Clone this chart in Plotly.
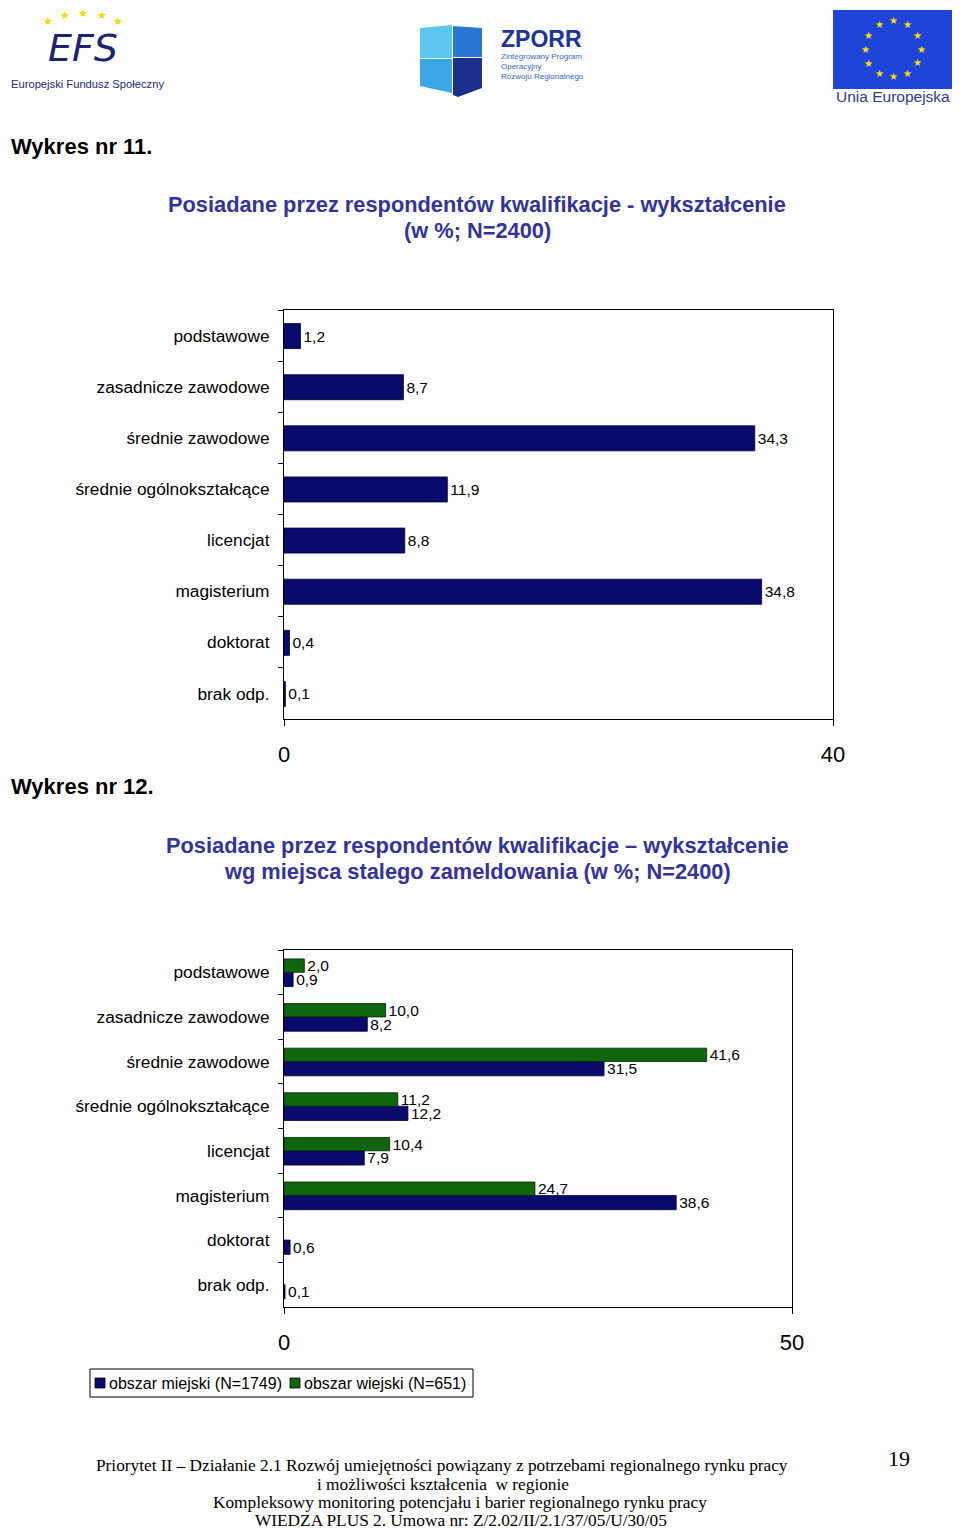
import math
import plotly.graph_objects as go

# ---------------- data ----------------
categories = ["podstawowe", "zasadnicze zawodowe", "średnie zawodowe",
              "średnie ogólnokształcące", "licencjat", "magisterium",
              "doktorat", "brak odp."]
total_pct = [1.2, 8.7, 34.3, 11.9, 8.8, 34.8, 0.4, 0.1]
urban_pct = [0.9, 8.2, 31.5, 12.2, 7.9, 38.6, 0.6, 0.1]
rural_pct = [2.0, 10.0, 41.6, 11.2, 10.4, 24.7, None, None]
series_names = ["obszar miejski (N=1749)", "obszar wiejski (N=651)"]
x1_ticks = [0, 40]
x2_ticks = [0, 50]

# page is 960x1534; browser body has an 8px margin, so the figure is 944x1518
OFF = 8
W, H = 960 - 2 * OFF, 1534 - 2 * OFF
def px(x): return (x - OFF) / W
def py(y): return 1 - (y - OFF) / H

def fmt(v):
    return "" if v is None else f"{v:.1f}".replace(".", ",")

BLUE = "#0a0a6c"
GREEN = "#0f660f"
TITLE = "#333399"
SANS = "Liberation Sans, Arial, sans-serif"
SERIF = "Liberation Serif, Times New Roman, serif"

cat_order = categories[::-1]  # podstawowe at top

fig = go.Figure()

fig.add_trace(go.Bar(
    x=total_pct, y=categories, orientation="h", xaxis="x", yaxis="y",
    marker=dict(color=BLUE, line=dict(color="#000030", width=0.8)),
    width=0.49, offset=-0.255,
    text=[fmt(v) for v in total_pct], textposition="outside",
    constraintext="none", cliponaxis=False,
    textfont=dict(family=SANS, size=15.5, color="black"),
    showlegend=False))

fig.add_trace(go.Bar(
    x=urban_pct, y=categories, orientation="h", xaxis="x2", yaxis="y2",
    name=series_names[0],
    marker=dict(color=BLUE, line=dict(color="#000030", width=0.8)),
    width=0.32, offset=-0.32,
    text=[fmt(v) for v in urban_pct], textposition="outside",
    constraintext="none", cliponaxis=False,
    textfont=dict(family=SANS, size=15.5, color="black"),
    showlegend=False))

fig.add_trace(go.Bar(
    x=rural_pct, y=categories, orientation="h", xaxis="x2", yaxis="y2",
    name=series_names[1],
    marker=dict(color=GREEN, line=dict(color="#002000", width=0.8)),
    width=0.30, offset=0.0,
    text=[fmt(v) for v in rural_pct], textposition="outside",
    constraintext="none", cliponaxis=False,
    textfont=dict(family=SANS, size=15.5, color="black"),
    showlegend=False))

axis_common = dict(showline=True, linecolor="black", linewidth=1, mirror=True,
                   showgrid=False, zeroline=False, ticks="outside",
                   tickcolor="black", fixedrange=True, automargin=False)

fig.update_layout(
    width=W, height=H, margin=dict(l=0, r=0, t=0, b=0, autoexpand=False),
    paper_bgcolor="white", plot_bgcolor="white",
    barmode="overlay",
    font=dict(family=SANS, color="black"),
    xaxis=dict(domain=[px(284), px(833)], range=[0, 40], tickvals=x1_ticks,
               tickfont=dict(size=22), ticklen=6, ticklabelstandoff=10,
               anchor="y", **axis_common),
    yaxis=dict(domain=[py(719), py(310)], type="category",
               categoryorder="array", categoryarray=cat_order,
               tickson="boundaries", tickfont=dict(size=17.3), ticklen=5,
               ticklabelstandoff=10, anchor="x", **axis_common),
    xaxis2=dict(domain=[px(284), px(792)], range=[0, 50], tickvals=x2_ticks,
                tickfont=dict(size=22), ticklen=6, ticklabelstandoff=10,
                anchor="y2", **axis_common),
    yaxis2=dict(domain=[py(1307), py(950)], type="category",
                categoryorder="array", categoryarray=cat_order,
                tickson="boundaries", tickfont=dict(size=17.3), ticklen=5,
                ticklabelstandoff=10, anchor="x2", **axis_common),
)

ann = []
shapes = []

def text(x, y, s, size, color="black", family=SANS, xanchor="center", bold=False):
    if bold:
        s = f"<b>{s}</b>"
    ann.append(dict(x=px(x), y=py(y), xref="paper", yref="paper", text=s,
                    showarrow=False, xanchor=xanchor, yanchor="middle",
                    borderpad=0, font=dict(size=size, color=color, family=family)))

# headings
text(10, 146, "Wykres nr 11.", 22, xanchor="left", bold=True)
text(477, 204, "Posiadane przez respondentów kwalifikacje - wykształcenie", 21.8, TITLE, bold=True)
text(477, 230, "(w %; N=2400)", 21.8, TITLE, bold=True)
text(10, 786, "Wykres nr 12.", 22, xanchor="left", bold=True)
text(477, 845, "Posiadane przez respondentów kwalifikacje – wykształcenie", 21.8, TITLE, bold=True)
text(477, 871, "wg miejsca stalego zameldowania (w %; N=2400)", 21.8, TITLE, bold=True)

# legend (manual box)
shapes.append(dict(type="rect", xref="paper", yref="paper",
                   x0=px(90), x1=px(473), y0=py(1397), y1=py(1369),
                   line=dict(color="black", width=1), fillcolor="white"))
shapes.append(dict(type="rect", xref="paper", yref="paper",
                   x0=px(95), x1=px(105), y0=py(1388), y1=py(1378),
                   line=dict(color="black", width=0.8), fillcolor=BLUE))
text(108, 1383, series_names[0], 16, xanchor="left")
shapes.append(dict(type="rect", xref="paper", yref="paper",
                   x0=px(290), x1=px(300), y0=py(1388), y1=py(1378),
                   line=dict(color="black", width=0.8), fillcolor=GREEN))
text(303, 1383, series_names[1], 16, xanchor="left")

# footer
text(442, 1465, "Priorytet II – Działanie 2.1 Rozwój umiejętności powiązany z potrzebami regionalnego rynku pracy", 17.3, family=SERIF)
text(443, 1484, "i możliwości kształcenia  w regionie", 17.3, family=SERIF)
text(460, 1502, "Kompleksowy monitoring potencjału i barier regionalnego rynku pracy", 17.3, family=SERIF)
text(461, 1520, "WIEDZA PLUS 2. Umowa nr: Z/2.02/II/2.1/37/05/U/30/05", 17.3, family=SERIF)
text(899, 1458, "19", 22, family=SERIF)

# ---- logos (approximate drawings) ----
# EFS
for (sx, sy) in [(48, 21), (65, 15), (83, 13), (102, 15), (118, 21)]:
    text(sx, sy, "★", 11, "#f5d800")
text(83, 48, "<i>EFS</i>", 38, "#1c2470", family="DejaVu Sans, sans-serif")
text(87, 84, "Europejski Fundusz Społeczny", 11.2, "#1c2a80")

# ZPORR puzzle
def path(pts, color):
    d = "M " + " L ".join(f"{px(x)},{py(y)}" for x, y in pts) + " Z"
    shapes.append(dict(type="path", xref="paper", yref="paper", path=d,
                       fillcolor=color, line=dict(width=0)))
path([(420, 28), (452, 25), (452, 58), (420, 58)], "#5cc6ef")
path([(453, 26), (482, 28), (482, 57), (453, 57)], "#2a78d4")
path([(420, 59), (452, 59), (452, 93), (420, 86)], "#3aa6e6")
path([(453, 58), (482, 58), (482, 88), (458, 97), (453, 95)], "#1a2f8e")
text(500, 39, "ZPORR", 23, "#20349a", xanchor="left", bold=True)
text(500, 57, "Zintegrowany Program", 8, "#3366cc", xanchor="left")
text(500, 67, "Operacyjny", 8, "#3366cc", xanchor="left")
text(500, 77, "Rozwoju Regionalnego", 8, "#3366cc", xanchor="left")

# EU flag
shapes.append(dict(type="rect", xref="paper", yref="paper",
                   x0=px(833), x1=px(952), y0=py(89), y1=py(10),
                   fillcolor="#1f44d8", line=dict(width=0)))
for k in range(12):
    a = 2 * math.pi * k / 12
    text(893 + 28 * math.sin(a), 49 - 28 * math.cos(a), "★", 10, "#ffe000")
text(893, 97, "Unia Europejska", 15.5, "#2a3a9a")

fig.update_layout(annotations=ann, shapes=shapes)
fig.write_html("out.html")
